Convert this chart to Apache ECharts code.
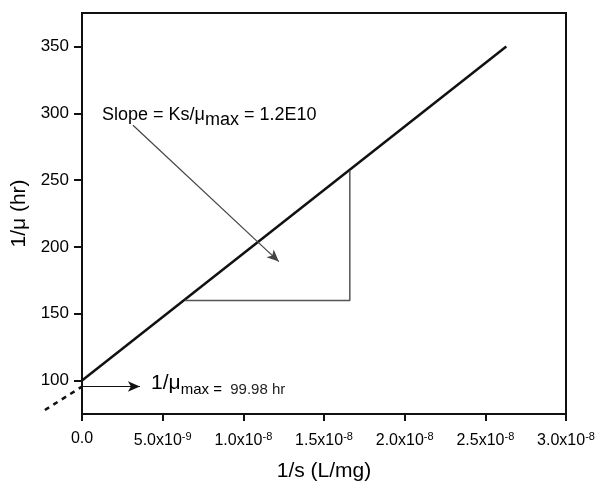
<!DOCTYPE html>
<html>
<head>
<meta charset="utf-8">
<script src="https://cdn.jsdelivr.net/npm/echarts@6/dist/echarts.min.js"></script>
<style>
  html, body { margin: 0; padding: 0; background: #fff; }
  #chart { width: 602px; height: 487px; }
</style>
</head>
<body>
<div id="chart"></div>
<script>
// fitted line 1/mu vs 1/s
const lineData = [[0, 100], [2.63e-8, 350]];
// extrapolation back to the intercept (goes outside the grid)
const dashData = [[-2.3e-9, 78], [0, 95.5]];
// slope triangle
const triangleData = [[6.38e-9, 160], [1.66e-8, 160], [1.66e-8, 257]];
// arrows: [from, to]
const slopeArrow = [[3.16e-9, 291], [1.22e-8, 189]];
const interceptArrow = [[0, 95.6], [3.59e-9, 95.6]];
// text anchors
const slopeTextPos = [1.24e-9, 298.5];
const interceptTextPos = [4.28e-9, 97.8];
const yTicks = [100, 150, 200, 250, 300, 350];

const FONT = '"Liberation Sans", Arial, sans-serif';
const INK = '#000';

/**
 * 0.0, 5.0x10^-9 ...
 */
const sciLabel = (v) => {
    if (Math.abs(v) < 1e-15) return '{b|0.0}';
    let exp = Math.floor(Math.log10(v) + 1e-9);
    let man = v / Math.pow(10, exp);
    return '{b|' + man.toFixed(1) + 'x10}{sup|' + exp + '}';
};

const chart = echarts.init(document.getElementById('chart'));

const options = {
    backgroundColor: '#fff',
    animation: false,
    grid: {
        left: 82, right: 36, top: 13, bottom: 69,
        show: true,
        borderColor: '#111',
        borderWidth: 2
    },
    xAxis: {
        type: 'value',
        min: 0,
        max: 3e-8,
        interval: 5e-9,
        name: '1/s (L/mg)',
        nameLocation: 'middle',
        nameGap: 47,
        nameTextStyle: { fontFamily: FONT, fontSize: 21, color: INK },
        axisLine: { lineStyle: { color: '#111', width: 2 } },
        axisTick: { length: 7, lineStyle: { color: '#111', width: 2 } },
        splitLine: { show: false },
        axisLabel: {
            margin: 17,
            formatter: sciLabel,
            rich: {
                b: { fontFamily: FONT, fontSize: 16, color: INK },
                sup: { fontFamily: FONT, fontSize: 11, color: INK, padding: [0, 0, 9, 0] }
            }
        }
    },
    yAxis: {
        type: 'value',
        min: 75,
        max: 375,
        name: '1/\u03bc (hr)',
        nameLocation: 'middle',
        nameGap: 52,
        nameRotate: 90,
        nameTextStyle: { fontFamily: FONT, fontSize: 21, color: INK },
        axisLine: { show: true, lineStyle: { color: '#111', width: 2 } },
        axisTick: { show: true, length: 8, customValues: yTicks, lineStyle: { color: '#111', width: 2 } },
        splitLine: { show: false },
        axisLabel: {
            margin: 13,
            customValues: yTicks,
            fontFamily: FONT, fontSize: 17, color: INK
        }
    },
    series: [
        {
            type: 'line',
            data: lineData,
            symbol: 'none',
            lineStyle: { color: '#111', width: 2.5 }
        },
        {
            type: 'line',
            data: triangleData,
            symbol: 'none',
            lineStyle: { color: '#555', width: 1.5 }
        },
        {
            // arrows and text annotations
            type: 'scatter',
            symbolSize: 0,
            itemStyle: { opacity: 1 },
            data: [
                { value: slopeTextPos, name: 'slope' },
                { value: interceptTextPos, name: 'intercept' }
            ],
            label: {
                show: true,
                position: 'right',
                distance: 0,
                opacity: 1,
                formatter: (p) => p.name === 'slope'
                    ? '{m|Slope = Ks/\u03bc}{s|max}{m| = 1.2E10}'
                    : '{big|1/\u03bc}{s2|max = }{n| 99.98 hr}',
                rich: {
                    m: { fontFamily: FONT, fontSize: 18, color: INK },
                    s: { fontFamily: FONT, fontSize: 18, color: INK, padding: [10, 0, 0, 0] },
                    big: { fontFamily: FONT, fontSize: 21, color: INK },
                    s2: { fontFamily: FONT, fontSize: 15, color: INK, padding: [13, 0, 0, 0] },
                    n: { fontFamily: FONT, fontSize: 15, color: '#222', padding: [13, 0, 0, 0] }
                }
            },
            markLine: {
                silent: true,
                symbol: ['none', 'arrow'],
                symbolSize: [8, 12],
                label: { show: false },
                data: [
                    [{ coord: slopeArrow[0], lineStyle: { color: '#444', width: 1.2, type: 'solid' } },
                     { coord: slopeArrow[1] }],
                    [{ coord: interceptArrow[0], lineStyle: { color: '#111', width: 1.2, type: 'solid' } },
                     { coord: interceptArrow[1] }]
                ]
            }
        }
    ]
};

chart.setOption(options);

// dashed extrapolation, drawn through the grid's scale but not clipped
const dashPts = dashData.map((d) => chart.convertToPixel({ gridIndex: 0 }, d));
chart.setOption({
    graphic: [{
        type: 'polyline',
        shape: { points: dashPts },
        style: { stroke: '#111', lineWidth: 2.5, lineDash: [5, 5], fill: null },
        z: 10
    }]
});
</script>
</body>
</html>
